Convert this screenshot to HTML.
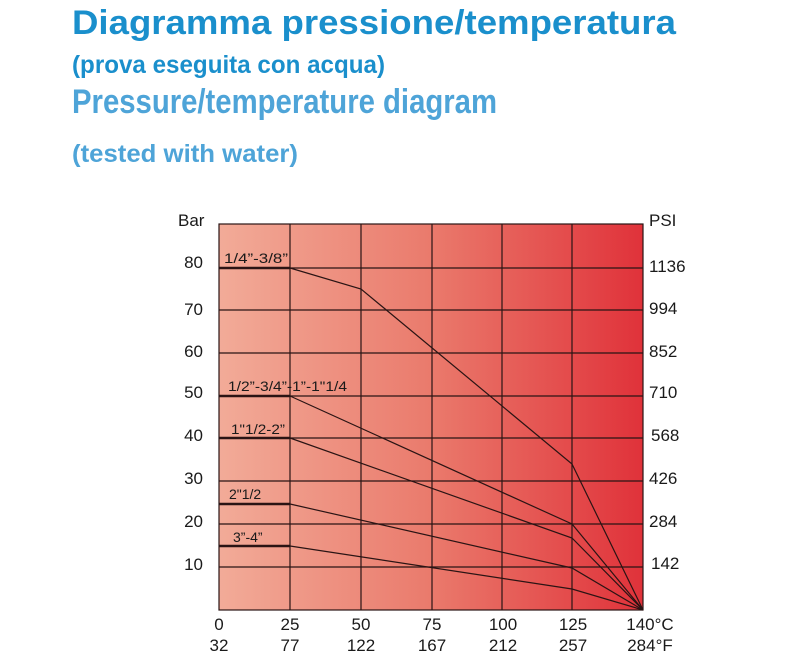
<!DOCTYPE html>
<html><head><meta charset="utf-8"><style>html,body{margin:0;padding:0;background:#fff}svg{display:block}</style></head>
<body>
<svg width="800" height="656" viewBox="0 0 800 656" xmlns="http://www.w3.org/2000/svg" font-family="Liberation Sans, sans-serif">
<defs>
<linearGradient id="g" x1="0" y1="0" x2="1" y2="0">
<stop offset="0" stop-color="#f2ab98"/>
<stop offset="0.5" stop-color="#ea7a6c"/>
<stop offset="1" stop-color="#e0323a"/>
</linearGradient>
</defs>
<g font-weight="bold">
<text x="72" y="34" font-size="34" fill="#1a8fcc" textLength="604" lengthAdjust="spacingAndGlyphs">Diagramma pressione/temperatura</text>
<text x="72" y="73" font-size="25" fill="#1a8fcc" textLength="313" lengthAdjust="spacingAndGlyphs">(prova eseguita con acqua)</text>
<text x="72" y="113" font-size="34" fill="#4ea4d8" textLength="425" lengthAdjust="spacingAndGlyphs">Pressure/temperature diagram</text>
<text x="72" y="162" font-size="25" fill="#4ea4d8" textLength="226" lengthAdjust="spacingAndGlyphs">(tested with water)</text>
</g>
<rect x="219" y="224" width="424" height="386" fill="url(#g)"/>
<g stroke="#2a1414" stroke-width="1.2" fill="none">
<rect x="219" y="224" width="424" height="386"/>
<path d="M290 224V610M361 224V610M432 224V610M502 224V610M572 224V610"/>
<path d="M219 268H643M219 310H643M219 353H643M219 396H643M219 438H643M219 481H643M219 524H643M219 567H643"/>
<path d="M290 268L361 289L572 464L643 610"/>
<path d="M290 396L572 524L643 610"/>
<path d="M290 438L572 538L643 610"/>
<path d="M290 504L572 568L643 610"/>
<path d="M290 546L572 589L643 610"/>
</g>
<g stroke="#2a1414" stroke-width="2.6">
<path d="M219 268H290M219 396H290M219 438H290M219 504H290M219 546H290"/>
</g>
<g font-size="14" fill="#1a1a1a">
<text x="224" y="263" textLength="64" lengthAdjust="spacingAndGlyphs">1/4”-3/8”</text>
<text x="228" y="391" textLength="119" lengthAdjust="spacingAndGlyphs">1/2”-3/4”-1”-1"1/4</text>
<text x="231" y="434" textLength="54" lengthAdjust="spacingAndGlyphs">1"1/2-2”</text>
<text x="229" y="499">2"1/2</text>
<text x="233" y="542">3”-4”</text>
</g>
<g font-size="17" fill="#1a1a1a">
<text x="178" y="226">Bar</text>
<g text-anchor="end">
<text x="203" y="268">80</text><text x="203" y="315">70</text><text x="203" y="357">60</text>
<text x="203" y="398">50</text><text x="203" y="441">40</text><text x="203" y="484">30</text>
<text x="203" y="527">20</text><text x="203" y="570">10</text>
</g>
<text x="649" y="226">PSI</text>
<text x="649" y="272">1136</text><text x="649" y="314">994</text><text x="649" y="357">852</text>
<text x="649" y="398">710</text><text x="651" y="441">568</text><text x="649" y="484">426</text>
<text x="649" y="527">284</text><text x="651" y="569">142</text>
<g text-anchor="middle">
<text x="219" y="630">0</text><text x="219" y="651">32</text>
<text x="290" y="630">25</text><text x="290" y="651">77</text>
<text x="361" y="630">50</text><text x="361" y="651">122</text>
<text x="432" y="630">75</text><text x="432" y="651">167</text>
<text x="503" y="630">100</text><text x="503" y="651">212</text>
<text x="573" y="630">125</text><text x="573" y="651">257</text>
<text x="650" y="630">140°C</text><text x="650" y="651">284°F</text>
</g>
</g>
</svg>
</body></html>
